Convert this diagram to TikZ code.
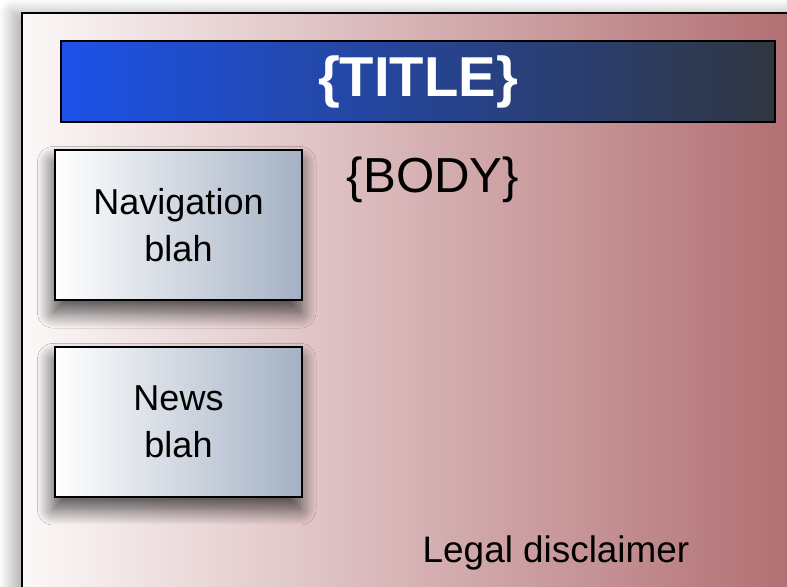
\documentclass[tikz,border=0pt]{standalone}
\usepackage{fontspec}
\setmainfont{Liberation Sans}
\usetikzlibrary{positioning,shadows.blur}

\definecolor{pageleft}{RGB}{252,248,248}
\definecolor{pageright}{RGB}{174,104,108}
\definecolor{titleleft}{RGB}{28,82,232}
\definecolor{titleright}{RGB}{48,54,64}
\definecolor{panelright}{RGB}{164,177,196}

\begin{document}
\begin{tikzpicture}[x=0.02cm,y=-0.02cm,
      page/.style={draw=black,line width=1.1pt,
                   left color=pageleft,right color=pageright,
                   blur shadow={shadow xshift=-5pt,shadow yshift=0pt,
                                shadow blur radius=8pt,shadow blur steps=20,
                                shadow opacity=35}},
      titlebar/.style={rectangle,draw=black,line width=1.1pt,
                       left color=titleleft,right color=titleright,
                       minimum width=14.28cm,minimum height=1.62cm,
                       text=white,font=\fontsize{32}{38}\selectfont\bfseries},
      panel/.style={rectangle,draw=black,line width=1.1pt,
                    left color=white,right color=panelright,
                    minimum width=4.94cm,minimum height=3cm,
                    align=center,font=\fontsize{20.5}{26.6}\selectfont,
                    blur shadow={shadow xshift=-1pt,shadow yshift=-7pt,
                                 shadow blur radius=9pt,shadow blur steps=20,
                                 shadow opacity=70}},
      label/.style={inner sep=0pt},
    ]
      \useasboundingbox (0,0) rectangle (787,587);
      % page background, runs off the right and bottom edges
      \draw[page] (22,13) rectangle (830,640);
      \node[titlebar] (title) at (418,81.5) {\{TITLE\}};
      \node[panel] (nav) at (178.5,225) {Navigation\\blah};
      \node[panel,below=0.9cm of nav] (news) {News\\blah};
      \node[label,font=\fontsize{28}{34}\selectfont] (body) at (433,180) {\{BODY\}};
      \node[label,font=\fontsize{21}{25}\selectfont] (legal) at (556,553) {Legal disclaimer};
    \end{tikzpicture}
\end{document}
